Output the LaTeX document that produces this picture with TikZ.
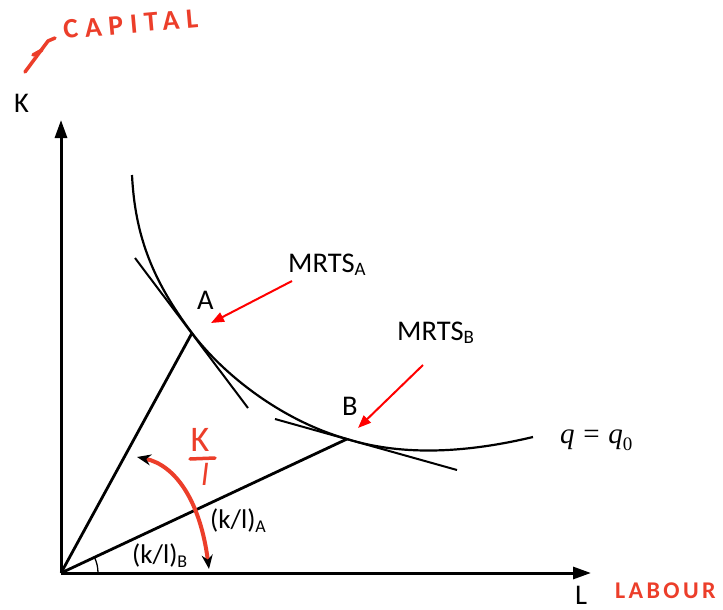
\documentclass[tikz,border=0pt]{standalone}
\usepackage{fontspec}
\setmainfont{Carlito}
\newfontfamily\serifit{Liberation Serif}
\usetikzlibrary{arrows.meta}
\definecolor{handred}{RGB}{236,62,42}
\begin{document}
\begin{tikzpicture}[x=1pt,y=-1pt,
  axis/.style={line width=3pt,-{Triangle[length=18pt,width=12pt]}},
  ray/.style={line width=2.8pt},
  iso/.style={line width=2.2pt},
  tangentline/.style={line width=2pt},
  anglearc/.style={line width=1.3pt},
  pointer/.style={red,line width=2pt,-{Triangle[length=13pt,width=10pt]}},
  hand/.style={handred,line width=4pt,line cap=round,line join=round},
  lab/.style={inner sep=0pt,font=\fontsize{28.5}{30}\selectfont},
  kl/.style={inner sep=0pt,font=\fontsize{27}{28}\selectfont},
  handtext/.style={inner sep=0pt,text=handred,font=\bfseries\fontsize{28}{30}\selectfont}]
\useasboundingbox[fill=white] (0,0) rectangle (723,610);

% key points
\coordinate (O) at (61,573);
\coordinate (Ytip) at (61,120);
\coordinate (Xtip) at (591,573);
\coordinate (A) at (192,333);
\coordinate (B) at (347,439);
\coordinate (Cs) at (132,175);
\coordinate (Ce) at (533,437);
\coordinate (TA1) at (135,258);
\coordinate (TA2) at (248,408);
\coordinate (TB1) at (275,419);
\coordinate (TB2) at (457,470);
\coordinate (ArcS) at (98,573);
\coordinate (ArcE) at (94.5,557.3);

% axes
\draw[axis] (O) -- (Ytip);
\draw[axis] (O) -- (Xtip);

% rays
\draw[ray] (O) -- (A);
\draw[ray] (O) -- (B);

% isoquant
\draw[iso] (Cs) .. controls (135,235) and (152,280) .. (A)
  .. controls (222,373) and (280,420) .. (B)
  .. controls (405,457) and (470,452) .. (Ce);

% tangents
\draw[tangentline] (TA1) -- (TA2);
\draw[tangentline] (TB1) -- (TB2);

% angle
\draw[anglearc] (ArcS) .. controls (98,567.6) and (96.8,562.2) .. (ArcE);

% labels
\node[lab,anchor=base west] (labK) at (14,112) {K};
\node[lab,anchor=base west] (labL) at (575,604) {L};
\node[lab,anchor=base west] (labA) at (197,309) {A};
\node[lab,anchor=base west] (labB) at (342,415) {B};
\node[lab,anchor=base west] (mrtsA) at (288,272) {MRTS\raisebox{-3pt}{\fontsize{19}{19}\selectfont A}};
\node[lab,anchor=base west] (mrtsB) at (397,340) {MRTS\raisebox{-3pt}{\fontsize{19}{19}\selectfont B}};
\node[kl,anchor=base west] (klA) at (210,528) {(k/l)\raisebox{-4pt}{\fontsize{18}{18}\selectfont A}};
\node[kl,anchor=base west] (klB) at (132,563) {(k/l)\raisebox{-4pt}{\fontsize{18}{18}\selectfont B}};
\node[inner sep=0pt,anchor=base west] (qlab) at (560,443)
  {\serifit\fontsize{29}{30}\selectfont\itshape q\hspace{0.3em}\upshape=\hspace{0.3em}\itshape q\upshape\raisebox{-7pt}{\fontsize{19}{19}\selectfont 0}};

% red pointers
\coordinate (PA1) at (292,281);
\coordinate (PA2) at (211,323);
\coordinate (PB1) at (423,365);
\coordinate (PB2) at (358,428);
\draw[pointer] (PA1) -- (PA2);
\draw[pointer] (PB1) -- (PB2);

% handwritten annotations
\coordinate (HU) at (137,457);
\coordinate (HD) at (209,569);
\draw[hand,line cap=butt,{Stealth[black,length=14pt,width=11pt]}-{Stealth[black,length=14pt,width=11pt]}]
  (HU) .. controls (175,465) and (200,500) .. (HD);
\node[handtext,font=\fontsize{36}{38}\selectfont,anchor=base] (hK) at (200,451) {K};
\coordinate (bar1) at (190,459);
\coordinate (bar2) at (215,458);
\draw[hand,line width=3.5pt] (bar1) -- (bar2);
\node[handtext,font=\itshape\fontsize{32}{34}\selectfont,anchor=base] (hl) at (205,485) {l};

\coordinate (ca1) at (25,72);
\coordinate (ca2) at (48,41);
\coordinate (ca3) at (33,55);
\coordinate (ca4) at (42,50);
\coordinate (ca5) at (55,38);
\draw[hand,line width=3.5pt] (ca1) -- (ca2) -- (ca5);
\draw[hand,line width=3.5pt] (ca3) -- (ca4);
\node[handtext,rotate=5,anchor=base west] (capital) at (64,39)
  {\addfontfeature{LetterSpace=24}CAPITAL};
\node[handtext,font=\bfseries\fontsize{24}{26}\selectfont,anchor=base west] (labour) at (615,598)
  {\addfontfeature{LetterSpace=14}LABOUR};
\end{tikzpicture}
\end{document}
